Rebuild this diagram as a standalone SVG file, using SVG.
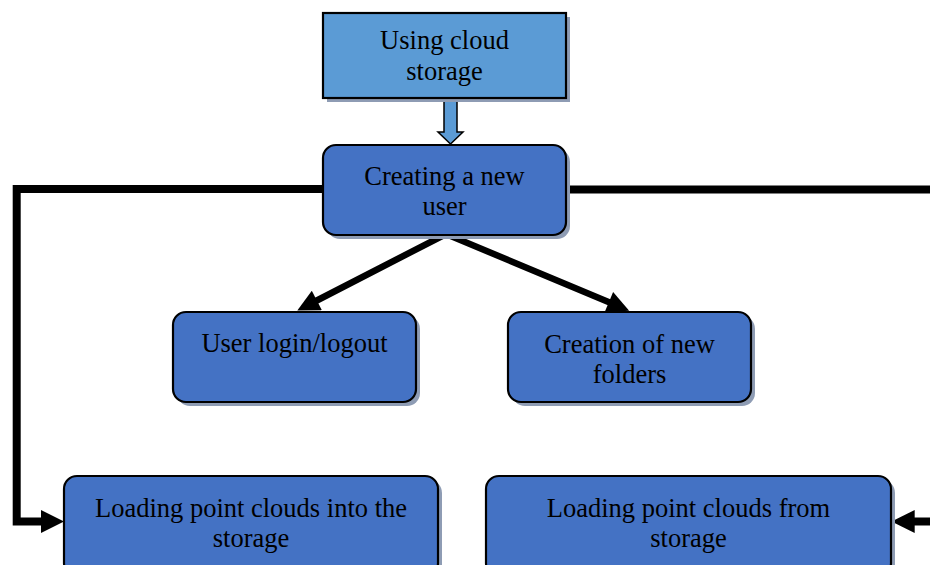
<svg xmlns="http://www.w3.org/2000/svg" width="930" height="565" viewBox="0 0 930 565">
<defs>
<style>
.sh{fill:#8e9cb4;}
.bx{fill:#4472c4;stroke:#000;stroke-width:2.2;}
.top{fill:#5b9bd5;stroke:#000;stroke-width:2.2;}
.t{font-family:"Liberation Serif",serif;font-size:26.5px;fill:#000;text-anchor:middle;}
.c{fill:none;stroke:#000;stroke-width:8;}
.d{fill:none;stroke:#000;stroke-width:6.5;stroke-linejoin:miter;stroke-miterlimit:10;}
</style>
<marker id="ah" viewBox="0 0 10 10" refX="1" refY="5" markerWidth="23" markerHeight="23" markerUnits="userSpaceOnUse" orient="auto">
<path d="M0,0 L10,5 L0,10 z" fill="#000"/>
</marker>
<marker id="ad" viewBox="0 0 10 10" refX="1" refY="5" markerWidth="24" markerHeight="22" markerUnits="userSpaceOnUse" orient="auto-start-reverse">
<path d="M0,0 L10,5 L0,10 z" fill="#000"/>
</marker>
</defs>
<rect width="930" height="565" fill="#fff"/>
<g id="connectors">
<polyline class="c" points="323,189 16.7,189 16.7,521.5 43.3,521.5" marker-end="url(#ah)"/>
<polyline class="c" points="566,189.5 930,189.5"/>
<line class="c" stroke-width="6.5" x1="930" y1="521.5" x2="912.4" y2="521.5" marker-end="url(#ah)"/>
<path class="d" d="M314.9,301.5 L446,234 L610.9,303" marker-start="url(#ad)" marker-end="url(#ad)"/>
<path d="M444,98 L457,98 L457,132 L463,132 L450.5,144 L438,132 L444,132 Z" fill="#5b9bd5" stroke="#000" stroke-width="1.5"/>
</g>
<g id="n1">
<rect class="sh" x="327" y="17" width="243" height="85"/>
<rect class="top" x="323" y="13" width="243" height="85"/>
<text class="t" x="444.5" y="49">Using cloud</text>
<text class="t" x="444.5" y="80">storage</text>
</g>
<g id="n2">
<rect class="sh" x="327" y="149" width="243" height="90" rx="13"/>
<rect class="bx" x="323" y="145" width="243" height="90" rx="13"/>
<text class="t" x="444.5" y="185">Creating a new</text>
<text class="t" x="444.5" y="215">user</text>
</g>
<g id="n3">
<rect class="sh" x="177" y="316" width="243" height="90" rx="13"/>
<rect class="bx" x="173" y="312" width="243" height="90" rx="13"/>
<text class="t" x="294.5" y="352">User login/logout</text>
</g>
<g id="n4">
<rect class="sh" x="512" y="316" width="243" height="90" rx="13"/>
<rect class="bx" x="508" y="312" width="243" height="90" rx="13"/>
<text class="t" x="629.5" y="353">Creation of new</text>
<text class="t" x="629.5" y="383">folders</text>
</g>
<g id="n5">
<rect class="sh" x="68" y="480" width="374" height="100" rx="13"/>
<rect class="bx" x="64" y="476" width="374" height="100" rx="13"/>
<text class="t" x="251" y="517">Loading point clouds into the</text>
<text class="t" x="251" y="547">storage</text>
</g>
<g id="n6">
<rect class="sh" x="490" y="480" width="405" height="100" rx="13"/>
<rect class="bx" x="486" y="476" width="405" height="100" rx="13"/>
<text class="t" x="688.5" y="517">Loading point clouds from</text>
<text class="t" x="688.5" y="547">storage</text>
</g>
</svg>
